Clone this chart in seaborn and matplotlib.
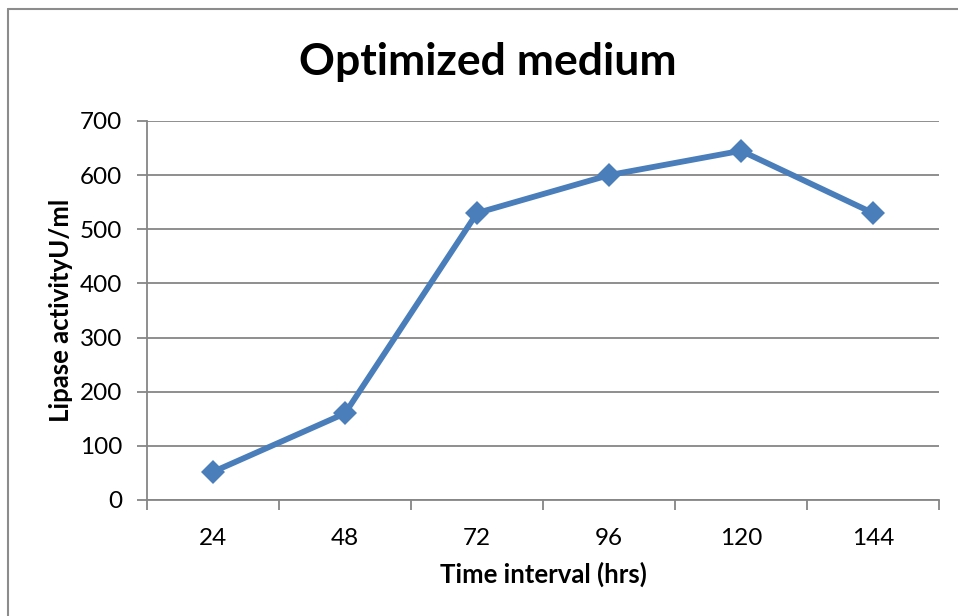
import matplotlib
matplotlib.use("Agg")
import matplotlib.pyplot as plt
import seaborn as sns
import pandas as pd

hours = ["24", "48", "72", "96", "120", "144"]
activity = [52, 160, 530, 600, 645, 530]
y_ticks = [0, 100, 200, 300, 400, 500, 600, 700]

sns.set_theme(style="white")
plt.rcParams["font.family"] = ["Lato", "DejaVu Sans"]
plt.rcParams["text.color"] = "black"
plt.rcParams["axes.labelcolor"] = "black"
plt.rcParams["xtick.color"] = "black"
plt.rcParams["ytick.color"] = "black"

df = pd.DataFrame({"hours": hours, "activity": activity})

fig = plt.figure(figsize=(9.58, 6.16), dpi=100)
ax = fig.add_axes([147 / 958, 1 - 500 / 616, (939 - 147) / 958, (500 - 121) / 616])

line_color = "#4A7EBB"
grid_color = "#868686"

sns.lineplot(data=df, x="hours", y="activity", ax=ax, sort=False,
             color=line_color, linewidth=4.2, marker="D", markersize=12.5,
             markeredgewidth=0, zorder=3)

ax.set_xlim(-0.5, len(hours) - 0.5)
ax.set_ylim(0, 700)
ax.set_yticks(y_ticks)
ax.set_yticklabels([str(v) for v in y_ticks], fontsize=17.5)
ax.set_xticks(range(len(hours)))
ax.set_xticklabels(hours, fontsize=17.5)
ax.tick_params(axis="x", length=0, pad=20)
ax.tick_params(axis="y", length=7, width=1.3, color=grid_color, pad=11, direction="out", left=True)

# category boundary ticks below the x axis
ax.set_xticks([i - 0.5 for i in range(len(hours) + 1)], minor=True)
ax.tick_params(axis="x", which="minor", length=7, width=1.3, color=grid_color, bottom=True)

ax.grid(axis="y", color=grid_color, linewidth=1.3)
ax.set_axisbelow(True)
for side in ["top", "right"]:
    ax.spines[side].set_visible(False)
for side in ["left", "bottom"]:
    ax.spines[side].set_color(grid_color)
    ax.spines[side].set_linewidth(1.3)

ax.set_xlabel("Time interval (hrs)", fontsize=18.5, fontweight="bold", labelpad=9)
ax.set_ylabel("Lipase activityU/ml", fontsize=18.5, fontweight="bold", labelpad=5)

fig.text(488 / 958, 1 - 62 / 616, "Optimized medium", ha="center", va="center",
         fontsize=32, fontweight="bold")

# chart frame
fig.add_artist(plt.Line2D([8 / 958, 8 / 958], [0, 1 - 9 / 616], transform=fig.transFigure,
                          color="#8c8c8c", linewidth=1.5))
fig.add_artist(plt.Line2D([8 / 958, 1], [1 - 9 / 616, 1 - 9 / 616], transform=fig.transFigure,
                          color="#8c8c8c", linewidth=1.5))

fig.savefig("out.png", dpi=100)
